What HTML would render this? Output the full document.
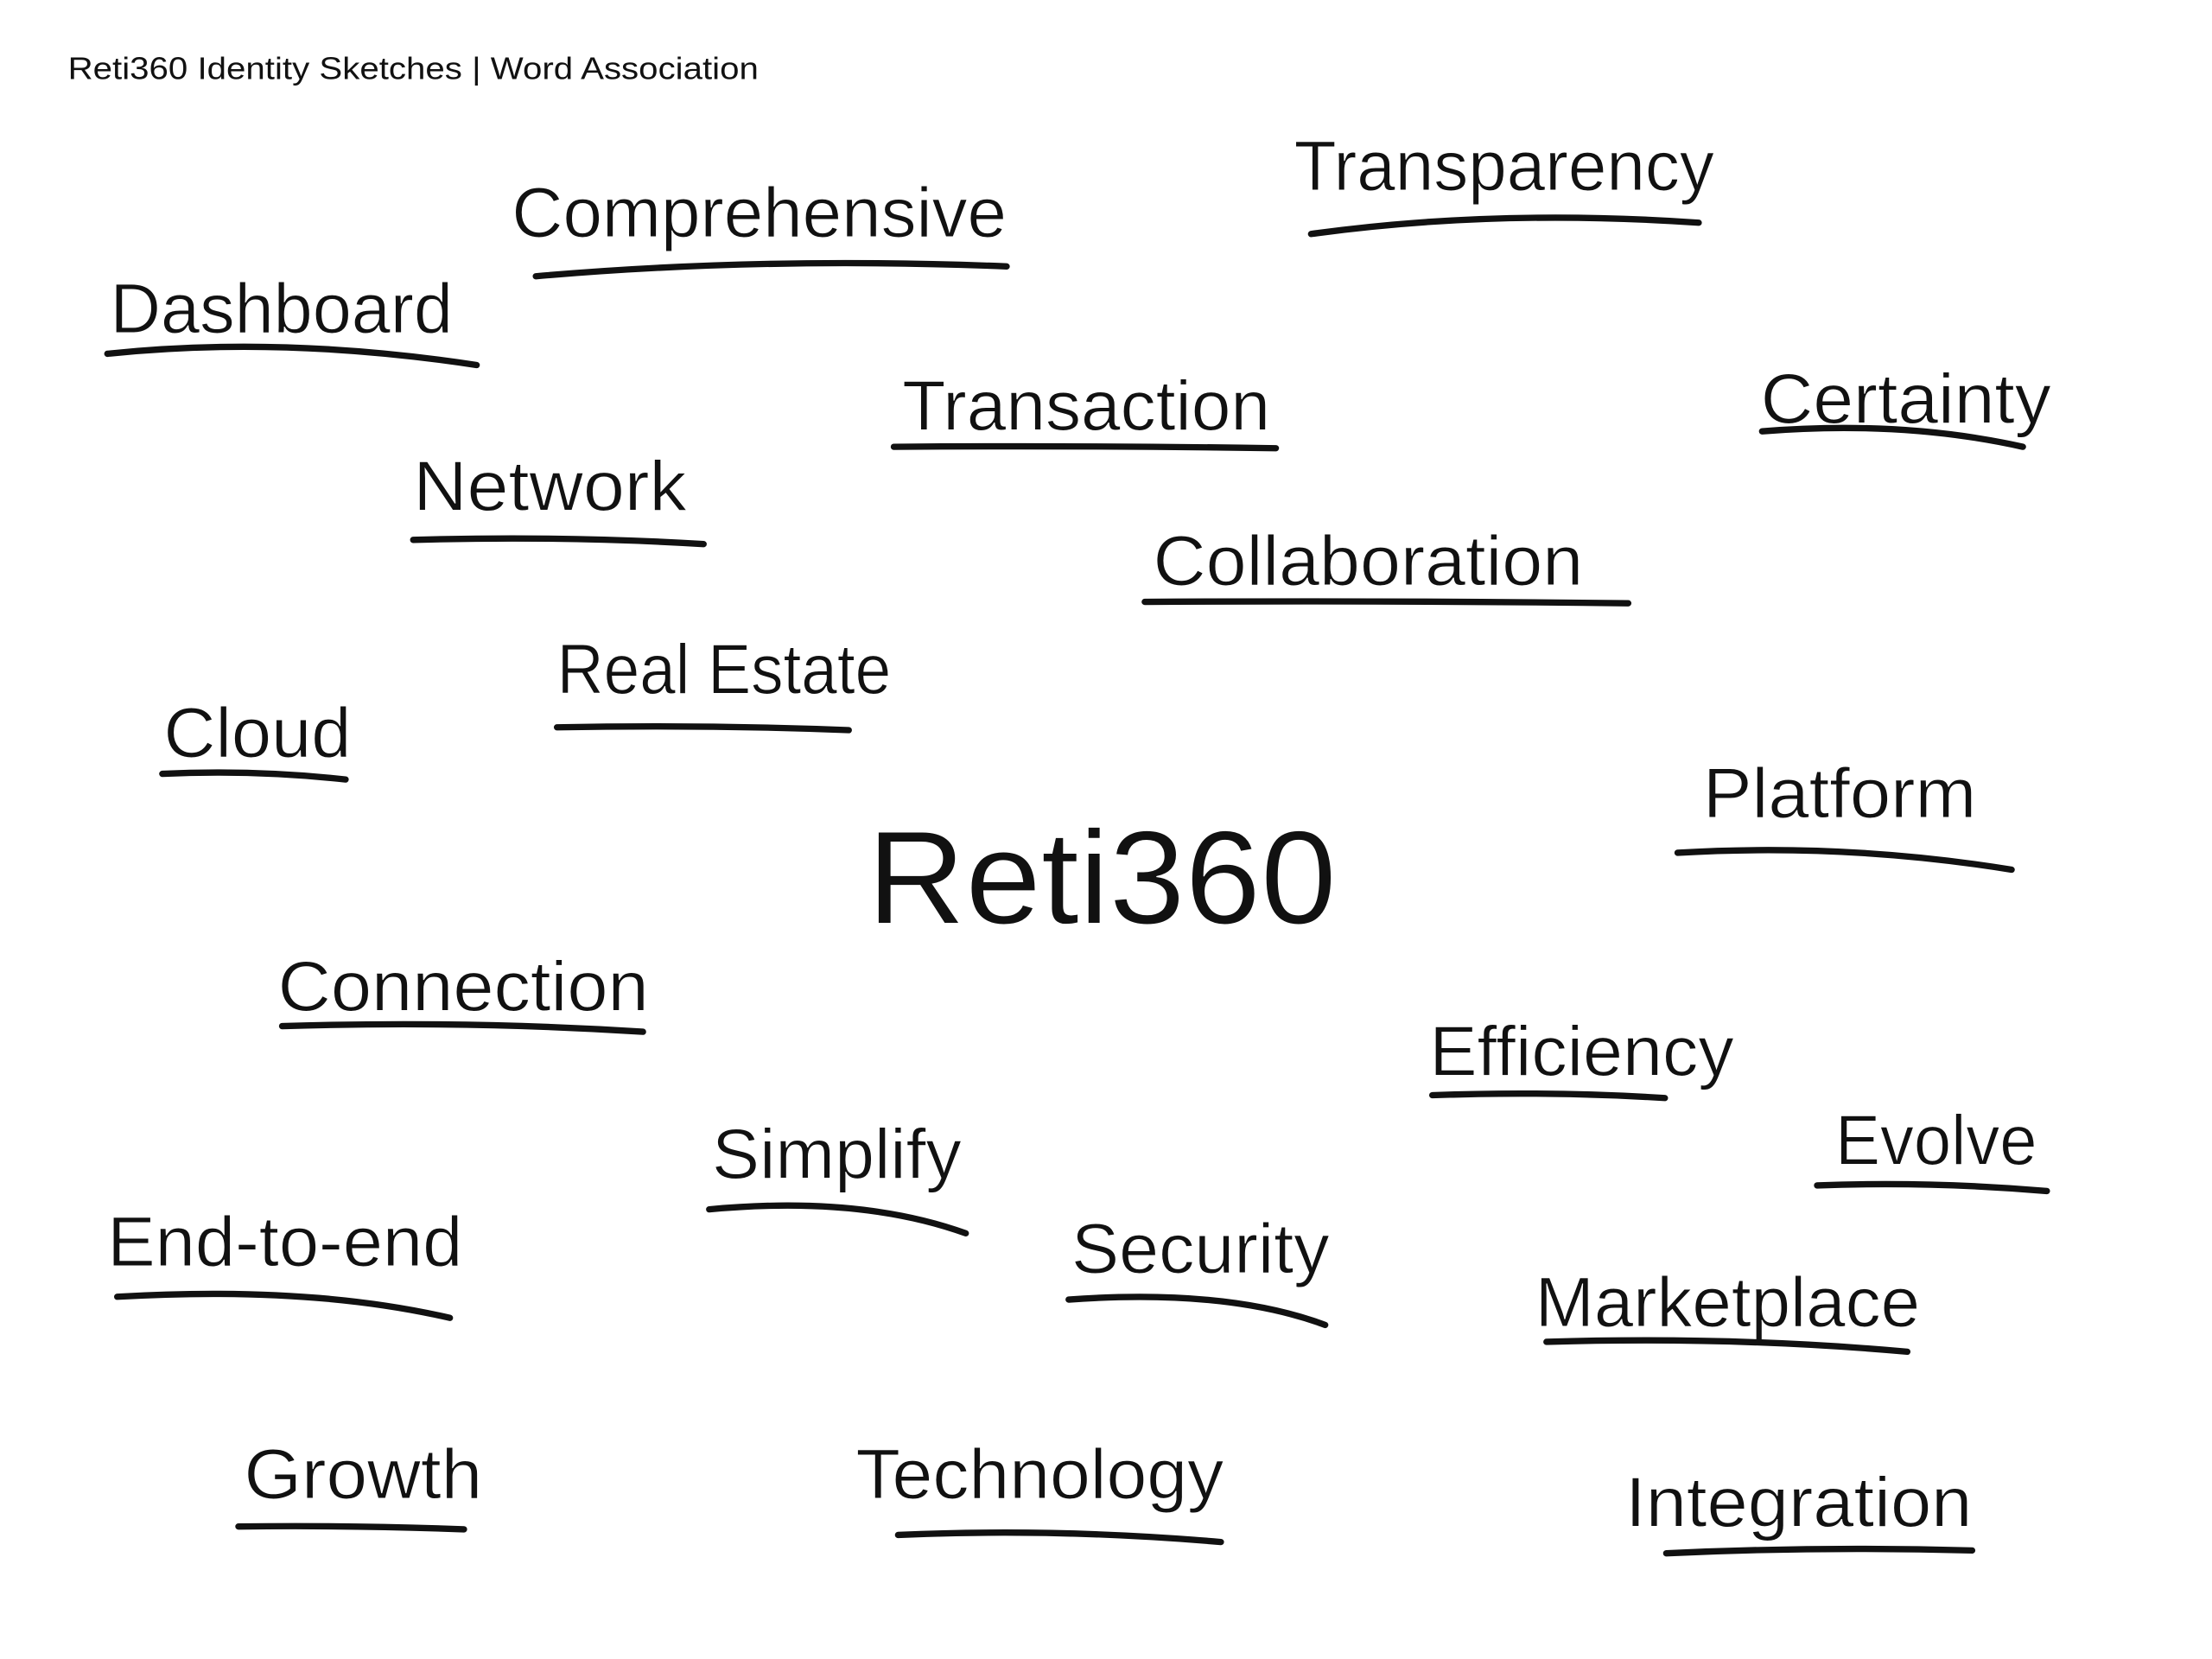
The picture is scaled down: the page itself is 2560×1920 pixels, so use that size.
<!DOCTYPE html>
<html><head><meta charset="utf-8"><style>
html,body{margin:0;padding:0;background:#fff;}
svg{display:block;}
text{font-family:"Liberation Sans",sans-serif;fill:#111;stroke:#fff;stroke-width:0.6;}
path{fill:none;stroke:#111;stroke-width:4.5;stroke-linecap:round;}
</style></head><body>
<svg width="2560" height="1920" viewBox="0 0 1569 1177" xmlns="http://www.w3.org/2000/svg">
<rect width="1569" height="1177" fill="#fff"/>
<text x="48" y="56" font-size="22" textLength="490" lengthAdjust="spacingAndGlyphs" style="stroke:none">Reti360 Identity Sketches | Word Association</text>

<g font-size="50">
<text x="363" y="168" textLength="351" lengthAdjust="spacingAndGlyphs">Comprehensive</text>
<text x="918" y="135" textLength="298" lengthAdjust="spacingAndGlyphs">Transparency</text>
<text x="78" y="236" textLength="243" lengthAdjust="spacingAndGlyphs">Dashboard</text>
<text x="640" y="305" textLength="261" lengthAdjust="spacingAndGlyphs">Transaction</text>
<text x="1249" y="300" textLength="206" lengthAdjust="spacingAndGlyphs">Certainty</text>
<text x="293" y="362" textLength="194" lengthAdjust="spacingAndGlyphs">Network</text>
<text x="818" y="415" textLength="305" lengthAdjust="spacingAndGlyphs">Collaboration</text>
<text x="395" y="492" textLength="237" lengthAdjust="spacingAndGlyphs">Real Estate</text>
<text x="116" y="537" textLength="133" lengthAdjust="spacingAndGlyphs">Cloud</text>
<text x="1208" y="580" textLength="194" lengthAdjust="spacingAndGlyphs">Platform</text>
<text x="197" y="717" textLength="263" lengthAdjust="spacingAndGlyphs">Connection</text>
<text x="1014" y="763" textLength="216" lengthAdjust="spacingAndGlyphs">Efficiency</text>
<text x="1302" y="826" textLength="143" lengthAdjust="spacingAndGlyphs">Evolve</text>
<text x="505" y="836" textLength="177" lengthAdjust="spacingAndGlyphs">Simplify</text>
<text x="76" y="898" textLength="252" lengthAdjust="spacingAndGlyphs">End-to-end</text>
<text x="760" y="903" textLength="183" lengthAdjust="spacingAndGlyphs">Security</text>
<text x="1089" y="941" textLength="273" lengthAdjust="spacingAndGlyphs">Marketplace</text>
<text x="173" y="1063" textLength="169" lengthAdjust="spacingAndGlyphs">Growth</text>
<text x="607" y="1063" textLength="261" lengthAdjust="spacingAndGlyphs">Technology</text>
<text x="1153" y="1083" textLength="246" lengthAdjust="spacingAndGlyphs">Integration</text>
</g>
<text x="615" y="655" font-size="94" textLength="333" lengthAdjust="spacingAndGlyphs">Reti360</text>

<path d="M380,196 Q540,182 714,189"/>
<path d="M930,166 Q1060,148 1205,158"/>
<path d="M76,251 Q200,238 338,259"/>
<path d="M634,317 Q770,316 905,318"/>
<path d="M1250,306 Q1350,298 1435,317"/>
<path d="M293,383 Q400,380 499,386"/>
<path d="M812,427 Q980,426 1155,428"/>
<path d="M395,516 Q500,514 602,518"/>
<path d="M115,549 Q180,546 245,553"/>
<path d="M1190,605 Q1310,598 1427,617"/>
<path d="M200,728 Q330,724 456,732"/>
<path d="M1016,777 Q1100,774 1181,779"/>
<path d="M1289,841 Q1370,838 1452,845"/>
<path d="M503,858 Q610,848 685,875"/>
<path d="M83,920 Q220,912 319,935"/>
<path d="M758,922 Q870,914 940,940"/>
<path d="M1097,952 Q1230,948 1353,959"/>
<path d="M169,1083 Q250,1082 329,1085"/>
<path d="M637,1089 Q750,1084 866,1094"/>
<path d="M1182,1102 Q1290,1097 1399,1100"/>
</svg>
</body></html>
